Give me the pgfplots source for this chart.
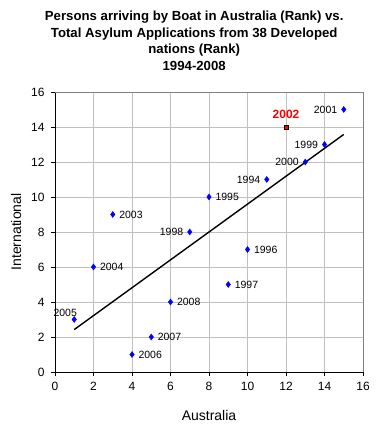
\documentclass[border=0pt]{standalone}
\usepackage{pgfplots}
\pgfplotsset{compat=1.18}
\usepackage{fontspec}
\setmainfont{Liberation Sans}
\definecolor{gridgray}{RGB}{192,192,192}
\definecolor{boxgray}{RGB}{128,128,128}
\begin{document}
\begin{tikzpicture}
\useasboundingbox (-55pt,-58pt) rectangle (322pt,372pt);
\begin{axis}[
  at={(0,0)}, anchor=south west,
  scale only axis, width=308pt, height=280pt,
  xmin=0, xmax=16, ymin=0, ymax=16,
  xtick={0,2,...,16}, ytick={0,2,...,16},
  axis lines*=left,
  axis line style={-, black, line width=0.8pt},
  tick align=outside,
  major tick length=4pt,
  tick style={black, line width=0.8pt},
  grid=major,
  major grid style={gridgray, line width=0.8pt},
  /pgf/number format/assume math mode=true,
  ticklabel style={font=\fontsize{12}{14}\selectfont},
  xticklabel style={yshift=-3pt},
  yticklabel style={xshift=-3pt},
  xlabel={Australia},
  ylabel={International},
  label style={font=\fontsize{14}{16}\selectfont},
  xlabel style={at={(0.5,0)}, anchor=center, yshift=-43pt},
  ylabel style={at={(0,0.5)}, anchor=center, yshift=39pt},
  title={Persons arriving by Boat in Australia (Rank) vs.\\Total Asylum Applications from 38 Developed\\nations (Rank)\\1994-2008},
  title style={at={(0.452,1)}, anchor=south, yshift=15pt, inner sep=0pt, align=center,
    font=\bfseries\fontsize{13.2}{16.7}\selectfont},
  clip=false,
]
\draw[boxgray, line width=0.8pt] (rel axis cs:0,1) -- (rel axis cs:1,1) -- (rel axis cs:1,0);
% trend line
\addplot[black, line width=1.4pt, no marks] coordinates {(1,2.425) (15,13.575)};
% labels to the right
\addplot[only marks, mark=diamond*, mark size=3pt, color=blue,
  point meta=explicit symbolic, nodes near coords,
  nodes near coords style={anchor=west, xshift=3pt, yshift=0pt, black, font=\fontsize{10.5}{12}\selectfont}]
  coordinates {(3,9)[2003] (2,6)[2004] (6,4)[2008] (5,2)[2007] (4,1)[2006] (8,10)[1995] (10,7)[1996] (9,5)[1997]};
% labels to the left
\addplot[only marks, mark=diamond*, mark size=3pt, color=blue,
  point meta=explicit symbolic, nodes near coords,
  nodes near coords style={anchor=east, xshift=-3pt, yshift=0pt, black, font=\fontsize{10.5}{12}\selectfont}]
  coordinates {(7,8)[1998] (11,11)[1994] (13,12)[2000] (14,13)[1999] (15,15)[2001]};
% label above
\addplot[only marks, mark=diamond*, mark size=3pt, color=blue,
  point meta=explicit symbolic, nodes near coords,
  nodes near coords style={anchor=south, xshift=-9pt, yshift=-1pt, black, font=\fontsize{10.5}{12}\selectfont}]
  coordinates {(1,3)[2005]};
% 2002 red
\addplot[only marks, mark=square*, mark size=2pt, color=black, mark options={fill=red, line width=0.4pt},
  point meta=explicit symbolic, nodes near coords,
  nodes near coords style={anchor=south, yshift=5pt, red, font=\bfseries\fontsize{12}{14}\selectfont}]
  coordinates {(12,14)[2002]};
\end{axis}
\end{tikzpicture}
\end{document}
